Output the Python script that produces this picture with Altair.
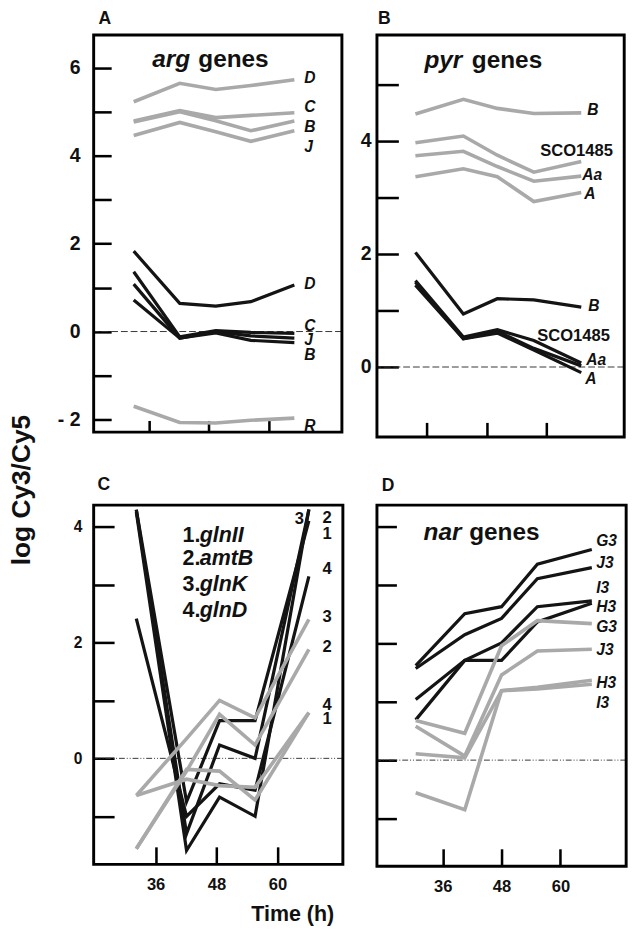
import altair as alt
import pandas as pd

FONT = "Liberation Sans"

# ---------------- Panel A : arg genes ----------------
times_A = [33.0, 42.2, 49.4, 56.4, 65.1]
arg_black = {
    "D": [1.83, 0.64, 0.58, 0.68, 1.06],
    "C": [1.36, -0.12, 0.02, -0.02, -0.04],
    "J": [1.08, -0.15, 0.00, -0.10, -0.15],
    "B": [0.72, -0.15, -0.03, -0.20, -0.25],
}
arg_gray = {
    "D": [5.23, 5.65, 5.51, 5.60, 5.73],
    "C": [4.79, 5.03, 4.87, 4.92, 4.98],
    "B": [4.77, 5.00, 4.80, 4.57, 4.79],
    "J": [4.46, 4.76, 4.55, 4.33, 4.57],
    "R": [-1.70, -2.07, -2.08, -2.02, -1.97],
}
arg_lab_text = ["D", "C", "B", "J", "D", "C", "J", "B", "R"]
arg_lab_x = [67.1] * 9
arg_lab_y = [5.77, 5.11, 4.65, 4.20, 1.08, 0.13, -0.20, -0.53, -2.15]

# ---------------- Panel B : pyr genes ----------------
times_B = [33.7, 43.3, 50.1, 57.4, 66.9]
pyr_black = {
    "B": [2.03, 0.94, 1.21, 1.19, 1.06],
    "SCO1485": [1.53, 0.53, 0.66, 0.47, 0.07],
    "Aa": [1.50, 0.50, 0.63, 0.33, 0.02],
    "A": [1.45, 0.50, 0.60, 0.30, -0.10],
}
pyr_gray = {
    "B": [4.48, 4.74, 4.58, 4.49, 4.50],
    "SCO1485": [3.97, 4.09, 3.75, 3.45, 3.64],
    "Aa": [3.74, 3.82, 3.55, 3.29, 3.38],
    "A": [3.37, 3.51, 3.37, 2.93, 3.09],
}
pyr_lab_text = ["B", "SCO1485", "Aa", "A", "B", "SCO1485", "Aa", "A"]
pyr_lab_x = [68.1, 58.7, 67.1, 67.5, 68.3, 58.1, 67.9, 67.7]
pyr_lab_y = [4.55, 3.82, 3.39, 3.06, 1.07, 0.54, 0.13, -0.22]
pyr_lab_italic = [True, False, True, True, True, False, True, True]

# ---------------- Panel C : glnII / amtB / glnK / glnD ----------------
times_C = [32.2, 42.1, 48.6, 55.6, 66.2]
gln_black = {
    "1": [4.29, -0.75, 0.65, 0.65, 4.10],
    "2": [4.29, -1.30, 0.23, 0.00, 4.29],
    "3": [4.25, -1.59, -0.67, -1.00, 4.30],
    "4": [2.41, -1.00, -0.44, -0.55, 3.14],
}
gln_gray = {
    "3": [-0.64, 0.34, 1.00, 0.70, 2.40],
    "2": [-1.56, -0.22, 0.76, 0.23, 1.88],
    "4": [-0.64, -0.36, -0.47, -0.50, 0.79],
    "1": [-1.56, -0.19, -0.22, -0.72, 0.79],
}
gln_lab_text = ["3", "2", "1", "4", "3", "2", "4", "1"]
gln_lab_x = [63.4, 68.9, 68.9, 68.9, 68.9, 68.9, 68.9, 68.9]
gln_lab_y = [4.13, 4.15, 3.87, 3.26, 2.44, 1.92, 0.91, 0.67]
gln_key_num = ["1.", "2.", "3.", "4."]
gln_key_name = ["glnII", "amtB", "glnK", "glnD"]
gln_key_y = [3.85, 3.45, 3.00, 2.55]

# ---------------- Panel D : nar genes ----------------
times_D = [30.5, 40.5, 48.0, 55.3, 66.4]
nar_black = {
    "G3": [1.62, 2.51, 2.63, 3.36, 3.61],
    "J3": [1.57, 2.15, 2.43, 3.11, 3.30],
    "I3": [1.04, 1.71, 2.01, 2.63, 2.73],
    "H3": [0.69, 1.71, 1.71, 2.37, 2.69],
}
nar_gray = {
    "G3": [0.68, 0.46, 1.96, 2.39, 2.34],
    "J3": [0.58, 0.07, 1.46, 1.87, 1.90],
    "H3": [0.11, 0.04, 1.19, 1.25, 1.37],
    "I3": [-0.56, -0.85, 1.19, 1.22, 1.30],
}
nar_lab_text = ["G3", "J3", "I3", "H3", "G3", "J3", "H3", "I3"]
nar_lab_x = [67.3] * 8
nar_lab_y = [3.75, 3.37, 2.95, 2.62, 2.28, 1.88, 1.32, 0.97]

# panel headings (italic part + plain part)
head_A = [("arg", 36.7, 6.19, True), ("genes", 45.9, 6.19, False)]
head_B = [("pyr", 35.5, 5.44, True), ("genes", 45.0, 5.44, False)]
head_D = [("nar", 32.1, 3.90, True), ("genes", 41.4, 3.90, False)]

x_ticks = [36, 48, 60]


def long_df(times, black, gray):
    rows = []
    for tone, d in (("black", black), ("gray", gray)):
        for name, vals in d.items():
            for t, v in zip(times, vals):
                rows.append({"t": t, "v": v, "series": f"{tone}-{name}", "tone": tone})
    return pd.DataFrame(rows)


def ann_df(texts, xs, ys, italics, sizes):
    return pd.DataFrame({"t": xs, "v": ys, "text": texts,
                         "italic": italics, "size": sizes})


def panel(df, ann, xdom, ydom, yticks, ylab_expr, ylab_size, ylab_pad,
          show_xlabels, w, h, letter, letter_dx, letter_off, ytick_len,
          xtick_len, gray_color, zero_dash, ytitle=None, xtitle=None):
    xs = alt.Scale(domain=xdom, nice=False, zero=False)
    ys = alt.Scale(domain=ydom, nice=False, zero=False)
    xaxis_kw = dict(values=x_ticks, offset=-xtick_len, tickSize=xtick_len,
                    tickWidth=2.6, tickColor="black", domain=False, grid=False,
                    labels=show_xlabels, labelFont=FONT, labelFontSize=17,
                    labelFontWeight="bold", labelColor="#111", labelPadding=13,
                    title=None)
    if xtitle is not None:
        xaxis_kw.update(title=xtitle["text"], titleX=xtitle["x"], titleY=xtitle["y"],
                        titleFont=FONT, titleFontSize=22, titleFontWeight="bold",
                        titleColor="#111", titleAlign="center", titleBaseline="middle")
    yaxis_kw = dict(values=yticks, offset=-ytick_len, tickSize=ytick_len,
                    tickWidth=2.6, tickColor="black", domain=False, grid=False,
                    labelFont=FONT, labelFontSize=ylab_size, labelFontWeight="bold",
                    labelColor="#111", labelPadding=ylab_pad, title=None)
    if ylab_expr is None:
        yaxis_kw["labels"] = False
    else:
        yaxis_kw["labelExpr"] = ylab_expr
    if ytitle is not None:
        yaxis_kw.update(title=ytitle["text"], titleX=ytitle["x"], titleY=ytitle["y"],
                        titleFont=FONT, titleFontSize=27, titleFontWeight="bold",
                        titleColor="#111", titleAlign="center", titleBaseline="middle",
                        titleAngle=270)
    xaxis = alt.Axis(**xaxis_kw)
    yaxis = alt.Axis(**yaxis_kw)
    X = alt.X("t:Q", scale=xs, axis=xaxis)
    Y = alt.Y("v:Q", scale=ys, axis=yaxis)

    base = alt.Chart(df)
    lines = base.mark_line(strokeJoin="miter").encode(
        x=X, y=Y,
        color=alt.Color("tone:N", scale=alt.Scale(domain=["black", "gray"],
                                                   range=["#141414", gray_color]),
                        legend=None),
        size=alt.Size("tone:N", scale=alt.Scale(domain=["black", "gray"], range=[3.3, 3.7]),
                      legend=None),
        detail="series:N",
    )
    zero = alt.Chart(pd.DataFrame({"v": [0]})).mark_rule(
        color="#333", strokeWidth=1, strokeDash=zero_dash
    ).encode(y=Y)

    frame = alt.Chart(pd.DataFrame({"f": [0]})).mark_rect(
        fill="transparent", stroke="black", strokeWidth=3
    ).encode(x=alt.value(0), x2=alt.value(w), y=alt.value(0), y2=alt.value(h))

    layers = [zero, lines]
    for italic in (True, False):
        sub = ann[ann["italic"] == italic]
        if len(sub) == 0:
            continue
        layers.append(
            alt.Chart(sub).mark_text(
                align="left", baseline="middle", font=FONT, fontWeight="bold",
                fontStyle="italic" if italic else "normal", color="#111"
            ).encode(
                x=X, y=Y,
                text="text:N",
                size=alt.Size("size:Q", scale=None, legend=None),
            )
        )
    layers.append(frame)
    return alt.layer(*layers).properties(
        width=w, height=h,
        title=alt.TitleParams(letter, anchor="start", frame="group", font=FONT,
                              fontSize=18, fontWeight="bold", color="#111",
                              dx=letter_dx, offset=letter_off),
    )


# annotations
annA = pd.concat([
    ann_df(arg_lab_text, arg_lab_x, arg_lab_y, [True] * 9, [16] * 9),
    ann_df([h[0] for h in head_A], [h[1] for h in head_A], [h[2] for h in head_A],
           [h[3] for h in head_A], [25, 25]),
], ignore_index=True)
annB = pd.concat([
    ann_df(pyr_lab_text, pyr_lab_x, pyr_lab_y, pyr_lab_italic,
           [17 if t == "SCO1485" else 16 for t in pyr_lab_text]),
    ann_df([h[0] for h in head_B], [h[1] for h in head_B], [h[2] for h in head_B],
           [h[3] for h in head_B], [25, 25]),
], ignore_index=True)
annC = pd.concat([
    ann_df(gln_lab_text, gln_lab_x, gln_lab_y, [False] * 8, [17] * 8),
    ann_df(gln_key_num, [41.3] * 4, gln_key_y, [False] * 4, [22] * 4),
    ann_df(gln_key_name, [44.7] * 4, gln_key_y, [True] * 4, [22] * 4),
], ignore_index=True)
annD = pd.concat([
    ann_df(nar_lab_text, nar_lab_x, nar_lab_y, [True] * 8, [16] * 8),
    ann_df([h[0] for h in head_D], [h[1] for h in head_D], [h[2] for h in head_D],
           [h[3] for h in head_D], [25, 25]),
], ignore_index=True)

exprA = "datum.value == -2 ? '- 2' : (datum.value % 2 == 0 ? format(datum.value, 'd') : '')"
exprBC = "(datum.value % 2 == 0 && datum.value < 5) ? format(datum.value, 'd') : ''"

pA = panel(long_df(times_A, arg_black, arg_gray), annA, [25.0, 74.6], [-2.29, 6.75],
           list(range(-2, 7)), exprA, 20, 14, False, 255, 408, "A", 5, 6, 18, 12,
           "#a9a9a9", [7, 3],
           ytitle={"text": "log Cy3/Cy5", "x": -92, "y": 467})
pB = panel(long_df(times_B, pyr_black, pyr_gray), annB, [26.0, 75.5], [-1.24, 5.88],
           list(range(0, 6)), exprBC, 20, 6, False, 254, 413, "B", 1, 6, 22, 15,
           "#a9a9a9", [7, 3])
pC = panel(long_df(times_C, gln_black, gln_gray), annC, [23.8, 72.9], [-1.83, 4.37],
           list(range(-1, 5)), exprBC, 16, 12, True, 256, 369, "C", 4, 9, 21, 18,
           "#9a9a9a", [6, 2, 1, 2, 1, 2],
           xtitle={"text": "Time (h)", "x": 204, "y": 69})
pD = panel(long_df(times_D, nar_black, nar_gray), annD, [22.6, 73.4], [-1.82, 4.37],
           list(range(-1, 5)), None, 16, 12, True, 256, 371, "D", 5, 9, 20, 18,
           "#a9a9a9", [6, 2, 1, 2, 1, 2])

chart = alt.concat(
    pA, pB, pC, pD, columns=2, spacing={"row": 70, "column": 35}, bounds="flush"
).configure_view(
    strokeWidth=0
).properties(
    padding={"left": 0, "top": -11, "right": 4, "bottom": 4}
)

chart.save("out.html", embed_options={"renderer": "svg", "actions": False})
